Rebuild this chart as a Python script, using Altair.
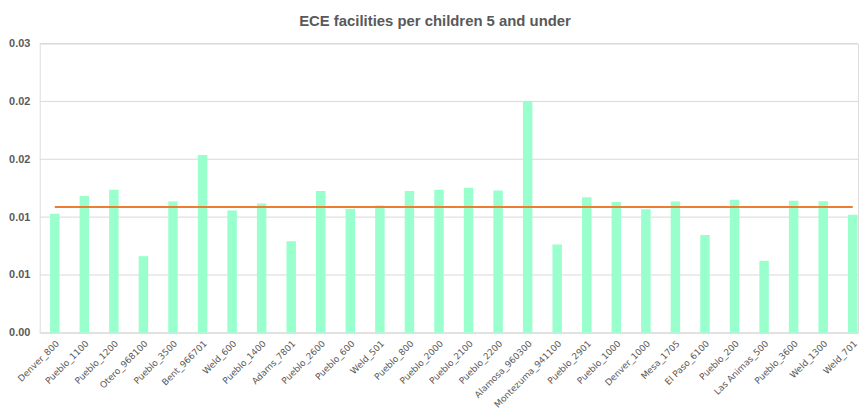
import altair as alt
import pandas as pd

districts = [
    "Denver_800", "Pueblo_1100", "Pueblo_1200", "Otero_968100", "Pueblo_3500",
    "Bent_966701", "Weld_600", "Pueblo_1400", "Adams_7801", "Pueblo_2600",
    "Pueblo_600", "Weld_501", "Pueblo_800", "Pueblo_2000", "Pueblo_2100",
    "Pueblo_2200", "Alamosa_960300", "Montezuma_941100", "Pueblo_2901",
    "Pueblo_1000", "Denver_1000", "Mesa_1705", "El Paso_6100", "Pueblo_200",
    "Las Animas_500", "Pueblo_3600", "Weld_1300", "Weld_701",
]
ece_per_child = [
    0.01234, 0.01419, 0.01484, 0.00795, 0.01361,
    0.01844, 0.01268, 0.01340, 0.00950, 0.01471,
    0.01286, 0.01320, 0.01471, 0.01484, 0.01505,
    0.01477, 0.02403, 0.00915, 0.01405,
    0.01358, 0.01282, 0.01361, 0.01014, 0.01381,
    0.00747, 0.01371, 0.01364, 0.01224,
]
average_value = 0.01306
y_ticks = [0, 0.006, 0.012, 0.018, 0.024, 0.03]

df = pd.DataFrame({
    "district": districts,
    "value": ece_per_child,
    "avg": [average_value] * len(districts),
})
grid_df = pd.DataFrame({"tick": y_ticks})

y_scale = alt.Scale(domain=[0, 0.03], nice=False)
y_axis = alt.Axis(
    values=y_ticks, format=".2f", ticks=False, domain=False, grid=False,
    labelFont="Liberation Sans", labelFontSize=11, labelFontWeight="bold",
    labelColor="#595959", labelPadding=10, title=None,
)
x_axis = alt.Axis(
    labelAngle=-45, labelFont="DejaVu Sans", labelFontSize=9,
    labelColor="#595959", ticks=False, domain=False, grid=False,
    labelPadding=6, labelOverlap=False, title=None,
)
x_scale = alt.Scale(paddingInner=0.68, paddingOuter=0.184, align=0.95)

grid = alt.Chart(grid_df).mark_rule(color="#D9D9D9", strokeWidth=1).encode(
    y=alt.Y("tick:Q", scale=y_scale, axis=y_axis, title=None),
    x=alt.value(0),
    x2=alt.value(826),
)

bars = alt.Chart(df).mark_bar(color="#99FFCC").encode(
    x=alt.X("district:N", sort=None, title=None, scale=x_scale, axis=x_axis),
    y=alt.Y("value:Q", title=None, scale=y_scale, axis=y_axis),
)

avg_line = alt.Chart(df).mark_line(color="#ED7D31", strokeWidth=2).encode(
    x=alt.X("district:N", sort=None, title=None, scale=x_scale, axis=x_axis),
    y=alt.Y("avg:Q", title=None, scale=y_scale, axis=y_axis),
)

chart = (
    alt.layer(grid, bars, avg_line)
    .properties(
        width=826,
        height=292,
        autosize=alt.AutoSizeParams(type="none"),
        padding={"left": 32, "top": 34, "right": 2, "bottom": 76},
        title=alt.Title(
            "ECE facilities per children 5 and under",
            font="Liberation Sans", fontSize=15, fontWeight="bold",
            color="#595959", anchor="middle", dx=-14, offset=9,
        ),
    )
    .configure_view(strokeWidth=0, stroke="transparent")
    .configure_axis(domain=False, grid=False, ticks=False)
    .configure(background="white")
)

chart.save("out.html", embed_options={"renderer": "svg", "actions": False})
